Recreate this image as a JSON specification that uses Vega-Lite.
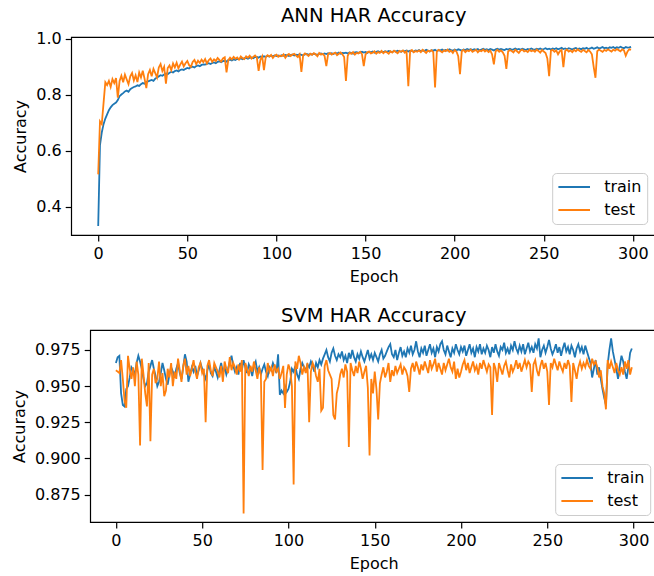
{
"$schema":"https://vega.github.io/schema/vega-lite/v6.json",
"padding":{"left":10,"top":5,"right":-23,"bottom":2},
"center":true,
"spacing":19,
"config":{
"font":"DejaVu Sans",
"view":{"stroke":"black","strokeWidth":1.2},
"axis":{"grid":false,"domain":false,"tickColor":"black","tickWidth":1.2,"tickSize":6,"labelFontSize":16,"labelColor":"black","titleFontSize":16,"titleFontWeight":"normal","titleColor":"black","labelPadding":4,"titlePadding":7},
"title":{"fontSize":19.5,"fontWeight":"normal","color":"black","offset":0},
"legend":{"fillColor":"rgba(255,255,255,0.85)","strokeColor":"#cccccc","cornerRadius":4,"padding":5,"symbolType":"stroke","symbolSize":1000,"symbolStrokeWidth":2,"labelFontSize":16,"labelColor":"black","rowPadding":5,"clipHeight":18,"labelOffset":13}
},
"datasets":{
"ann":[
{"epoch":0,"train":0.330,"test":0.515},{"epoch":1,"train":0.620,"test":0.705},{"epoch":2,"train":0.665,"test":0.695},{"epoch":3,"train":0.695,"test":0.770},{"epoch":4,"train":0.715,"test":0.845},{"epoch":5,"train":0.730,"test":0.835},{"epoch":6,"train":0.745,"test":0.850},{"epoch":7,"train":0.755,"test":0.828},{"epoch":8,"train":0.763,"test":0.856},{"epoch":9,"train":0.768,"test":0.842},
{"epoch":10,"train":0.772,"test":0.860},{"epoch":11,"train":0.781,"test":0.790},{"epoch":12,"train":0.795,"test":0.850},{"epoch":13,"train":0.801,"test":0.868},{"epoch":14,"train":0.806,"test":0.845},{"epoch":15,"train":0.812,"test":0.872},{"epoch":16,"train":0.815,"test":0.855},{"epoch":17,"train":0.811,"test":0.838},{"epoch":18,"train":0.820,"test":0.866},{"epoch":19,"train":0.824,"test":0.878},
{"epoch":20,"train":0.828,"test":0.851},{"epoch":21,"train":0.830,"test":0.870},{"epoch":22,"train":0.834,"test":0.846},{"epoch":23,"train":0.832,"test":0.880},{"epoch":24,"train":0.838,"test":0.862},{"epoch":25,"train":0.842,"test":0.886},{"epoch":26,"train":0.840,"test":0.858},{"epoch":27,"train":0.846,"test":0.824},{"epoch":28,"train":0.848,"test":0.874},{"epoch":29,"train":0.851,"test":0.889},
{"epoch":30,"train":0.853,"test":0.866},{"epoch":31,"train":0.850,"test":0.893},{"epoch":32,"train":0.858,"test":0.878},{"epoch":33,"train":0.862,"test":0.862},{"epoch":34,"train":0.866,"test":0.898},{"epoch":35,"train":0.870,"test":0.910},{"epoch":36,"train":0.868,"test":0.885},{"epoch":37,"train":0.873,"test":0.900},{"epoch":38,"train":0.876,"test":0.840},{"epoch":39,"train":0.874,"test":0.896},
{"epoch":40,"train":0.879,"test":0.905},{"epoch":41,"train":0.882,"test":0.888},{"epoch":42,"train":0.880,"test":0.912},{"epoch":43,"train":0.885,"test":0.898},{"epoch":44,"train":0.887,"test":0.915},{"epoch":45,"train":0.884,"test":0.895},{"epoch":46,"train":0.889,"test":0.908},{"epoch":47,"train":0.891,"test":0.919},{"epoch":48,"train":0.889,"test":0.902},{"epoch":49,"train":0.893,"test":0.913},
{"epoch":50,"train":0.896,"test":0.921},{"epoch":51,"train":0.894,"test":0.906},{"epoch":52,"train":0.899,"test":0.900},{"epoch":53,"train":0.901,"test":0.918},{"epoch":54,"train":0.898,"test":0.925},{"epoch":55,"train":0.903,"test":0.910},{"epoch":56,"train":0.905,"test":0.922},{"epoch":57,"train":0.902,"test":0.914},{"epoch":58,"train":0.907,"test":0.926},{"epoch":59,"train":0.909,"test":0.917},
{"epoch":60,"train":0.908,"test":0.928},{"epoch":61,"train":0.911,"test":0.912},{"epoch":62,"train":0.913,"test":0.924},{"epoch":63,"train":0.910,"test":0.930},{"epoch":64,"train":0.914,"test":0.918},{"epoch":65,"train":0.916,"test":0.927},{"epoch":66,"train":0.913,"test":0.921},{"epoch":67,"train":0.918,"test":0.932},{"epoch":68,"train":0.920,"test":0.925},{"epoch":69,"train":0.917,"test":0.919},
{"epoch":70,"train":0.921,"test":0.930},{"epoch":71,"train":0.922,"test":0.934},{"epoch":72,"train":0.919,"test":0.880},{"epoch":73,"train":0.924,"test":0.924},{"epoch":74,"train":0.926,"test":0.933},{"epoch":75,"train":0.923,"test":0.927},{"epoch":76,"train":0.927,"test":0.936},{"epoch":77,"train":0.925,"test":0.929},{"epoch":78,"train":0.929,"test":0.934},{"epoch":79,"train":0.928,"test":0.926},
{"epoch":80,"train":0.930,"test":0.937},{"epoch":81,"train":0.927,"test":0.931},{"epoch":82,"train":0.931,"test":0.928},{"epoch":83,"train":0.932,"test":0.938},{"epoch":84,"train":0.929,"test":0.933},{"epoch":85,"train":0.933,"test":0.940},{"epoch":86,"train":0.934,"test":0.930},{"epoch":87,"train":0.931,"test":0.936},{"epoch":88,"train":0.935,"test":0.941},{"epoch":89,"train":0.936,"test":0.934},
{"epoch":90,"train":0.933,"test":0.886},{"epoch":91,"train":0.937,"test":0.925},{"epoch":92,"train":0.935,"test":0.938},{"epoch":93,"train":0.938,"test":0.888},{"epoch":94,"train":0.936,"test":0.935},{"epoch":95,"train":0.939,"test":0.942},{"epoch":96,"train":0.937,"test":0.937},{"epoch":97,"train":0.940,"test":0.943},{"epoch":98,"train":0.938,"test":0.932},{"epoch":99,"train":0.941,"test":0.940},
{"epoch":100,"train":0.939,"test":0.944},{"epoch":101,"train":0.941,"test":0.936},{"epoch":102,"train":0.938,"test":0.941},{"epoch":103,"train":0.942,"test":0.938},{"epoch":104,"train":0.940,"test":0.945},{"epoch":105,"train":0.943,"test":0.933},{"epoch":106,"train":0.941,"test":0.942},{"epoch":107,"train":0.939,"test":0.946},{"epoch":108,"train":0.943,"test":0.939},{"epoch":109,"train":0.944,"test":0.944},
{"epoch":110,"train":0.941,"test":0.947},{"epoch":111,"train":0.944,"test":0.940},{"epoch":112,"train":0.942,"test":0.935},{"epoch":113,"train":0.945,"test":0.945},{"epoch":114,"train":0.943,"test":0.882},{"epoch":115,"train":0.941,"test":0.942},{"epoch":116,"train":0.945,"test":0.948},{"epoch":117,"train":0.946,"test":0.944},{"epoch":118,"train":0.943,"test":0.939},{"epoch":119,"train":0.946,"test":0.947},
{"epoch":120,"train":0.944,"test":0.943},{"epoch":121,"train":0.947,"test":0.949},{"epoch":122,"train":0.945,"test":0.945},{"epoch":123,"train":0.943,"test":0.938},{"epoch":124,"train":0.947,"test":0.950},{"epoch":125,"train":0.948,"test":0.944},{"epoch":126,"train":0.945,"test":0.947},{"epoch":127,"train":0.948,"test":0.939},{"epoch":128,"train":0.946,"test":0.903},{"epoch":129,"train":0.949,"test":0.946},
{"epoch":130,"train":0.947,"test":0.950},{"epoch":131,"train":0.949,"test":0.944},{"epoch":132,"train":0.946,"test":0.948},{"epoch":133,"train":0.950,"test":0.951},{"epoch":134,"train":0.948,"test":0.942},{"epoch":135,"train":0.951,"test":0.947},{"epoch":136,"train":0.947,"test":0.952},{"epoch":137,"train":0.950,"test":0.945},{"epoch":138,"train":0.949,"test":0.935},{"epoch":139,"train":0.951,"test":0.850},
{"epoch":140,"train":0.948,"test":0.940},{"epoch":141,"train":0.952,"test":0.951},{"epoch":142,"train":0.950,"test":0.947},{"epoch":143,"train":0.947,"test":0.953},{"epoch":144,"train":0.952,"test":0.944},{"epoch":145,"train":0.953,"test":0.950},{"epoch":146,"train":0.950,"test":0.948},{"epoch":147,"train":0.952,"test":0.954},{"epoch":148,"train":0.954,"test":0.946},{"epoch":149,"train":0.951,"test":0.903},
{"epoch":150,"train":0.953,"test":0.945},{"epoch":151,"train":0.950,"test":0.952},{"epoch":152,"train":0.954,"test":0.955},{"epoch":153,"train":0.952,"test":0.948},{"epoch":154,"train":0.955,"test":0.951},{"epoch":155,"train":0.951,"test":0.956},{"epoch":156,"train":0.954,"test":0.947},{"epoch":157,"train":0.956,"test":0.953},{"epoch":158,"train":0.953,"test":0.950},{"epoch":159,"train":0.955,"test":0.957},
{"epoch":160,"train":0.952,"test":0.949},{"epoch":161,"train":0.956,"test":0.955},{"epoch":162,"train":0.954,"test":0.952},{"epoch":163,"train":0.957,"test":0.947},{"epoch":164,"train":0.955,"test":0.956},{"epoch":165,"train":0.953,"test":0.951},{"epoch":166,"train":0.957,"test":0.958},{"epoch":167,"train":0.955,"test":0.953},{"epoch":168,"train":0.958,"test":0.949},{"epoch":169,"train":0.956,"test":0.957},
{"epoch":170,"train":0.954,"test":0.954},{"epoch":171,"train":0.958,"test":0.959},{"epoch":172,"train":0.956,"test":0.951},{"epoch":173,"train":0.959,"test":0.956},{"epoch":174,"train":0.955,"test":0.831},{"epoch":175,"train":0.958,"test":0.955},{"epoch":176,"train":0.957,"test":0.960},{"epoch":177,"train":0.954,"test":0.952},{"epoch":178,"train":0.959,"test":0.957},{"epoch":179,"train":0.957,"test":0.954},
{"epoch":180,"train":0.960,"test":0.959},{"epoch":181,"train":0.956,"test":0.953},{"epoch":182,"train":0.959,"test":0.961},{"epoch":183,"train":0.957,"test":0.956},{"epoch":184,"train":0.961,"test":0.950},{"epoch":185,"train":0.958,"test":0.958},{"epoch":186,"train":0.955,"test":0.955},{"epoch":187,"train":0.960,"test":0.960},{"epoch":188,"train":0.958,"test":0.953},{"epoch":189,"train":0.961,"test":0.826},
{"epoch":190,"train":0.957,"test":0.955},{"epoch":191,"train":0.960,"test":0.961},{"epoch":192,"train":0.959,"test":0.957},{"epoch":193,"train":0.962,"test":0.952},{"epoch":194,"train":0.958,"test":0.959},{"epoch":195,"train":0.961,"test":0.956},{"epoch":196,"train":0.959,"test":0.962},{"epoch":197,"train":0.963,"test":0.954},{"epoch":198,"train":0.960,"test":0.958},{"epoch":199,"train":0.958,"test":0.950},
{"epoch":200,"train":0.962,"test":0.960},{"epoch":201,"train":0.959,"test":0.955},{"epoch":202,"train":0.963,"test":0.938},{"epoch":203,"train":0.961,"test":0.874},{"epoch":204,"train":0.958,"test":0.957},{"epoch":205,"train":0.962,"test":0.961},{"epoch":206,"train":0.960,"test":0.953},{"epoch":207,"train":0.964,"test":0.959},{"epoch":208,"train":0.961,"test":0.956},{"epoch":209,"train":0.963,"test":0.962},
{"epoch":210,"train":0.960,"test":0.954},{"epoch":211,"train":0.963,"test":0.958},{"epoch":212,"train":0.961,"test":0.961},{"epoch":213,"train":0.964,"test":0.952},{"epoch":214,"train":0.959,"test":0.959},{"epoch":215,"train":0.962,"test":0.956},{"epoch":216,"train":0.965,"test":0.962},{"epoch":217,"train":0.961,"test":0.955},{"epoch":218,"train":0.963,"test":0.960},{"epoch":219,"train":0.960,"test":0.953},
{"epoch":220,"train":0.964,"test":0.958},{"epoch":221,"train":0.962,"test":0.945},{"epoch":222,"train":0.959,"test":0.909},{"epoch":223,"train":0.963,"test":0.956},{"epoch":224,"train":0.965,"test":0.961},{"epoch":225,"train":0.961,"test":0.954},{"epoch":226,"train":0.964,"test":0.959},{"epoch":227,"train":0.962,"test":0.952},{"epoch":228,"train":0.960,"test":0.940},{"epoch":229,"train":0.964,"test":0.893},
{"epoch":230,"train":0.962,"test":0.955},{"epoch":231,"train":0.965,"test":0.960},{"epoch":232,"train":0.961,"test":0.957},{"epoch":233,"train":0.963,"test":0.952},{"epoch":234,"train":0.966,"test":0.961},{"epoch":235,"train":0.962,"test":0.956},{"epoch":236,"train":0.964,"test":0.950},{"epoch":237,"train":0.961,"test":0.959},{"epoch":238,"train":0.965,"test":0.962},{"epoch":239,"train":0.963,"test":0.955},
{"epoch":240,"train":0.960,"test":0.958},{"epoch":241,"train":0.964,"test":0.953},{"epoch":242,"train":0.962,"test":0.961},{"epoch":243,"train":0.966,"test":0.956},{"epoch":244,"train":0.963,"test":0.959},{"epoch":245,"train":0.961,"test":0.954},{"epoch":246,"train":0.965,"test":0.962},{"epoch":247,"train":0.963,"test":0.957},{"epoch":248,"train":0.966,"test":0.951},{"epoch":249,"train":0.962,"test":0.960},
{"epoch":250,"train":0.964,"test":0.955},{"epoch":251,"train":0.967,"test":0.950},{"epoch":252,"train":0.963,"test":0.930},{"epoch":253,"train":0.965,"test":0.867},{"epoch":254,"train":0.962,"test":0.958},{"epoch":255,"train":0.966,"test":0.961},{"epoch":256,"train":0.964,"test":0.954},{"epoch":257,"train":0.967,"test":0.959},{"epoch":258,"train":0.963,"test":0.945},{"epoch":259,"train":0.965,"test":0.956},
{"epoch":260,"train":0.968,"test":0.960},{"epoch":261,"train":0.964,"test":0.899},{"epoch":262,"train":0.966,"test":0.957},{"epoch":263,"train":0.963,"test":0.962},{"epoch":264,"train":0.967,"test":0.955},{"epoch":265,"train":0.965,"test":0.959},{"epoch":266,"train":0.962,"test":0.953},{"epoch":267,"train":0.966,"test":0.961},{"epoch":268,"train":0.968,"test":0.956},{"epoch":269,"train":0.964,"test":0.963},
{"epoch":270,"train":0.966,"test":0.958},{"epoch":271,"train":0.963,"test":0.954},{"epoch":272,"train":0.967,"test":0.961},{"epoch":273,"train":0.965,"test":0.957},{"epoch":274,"train":0.968,"test":0.952},{"epoch":275,"train":0.964,"test":0.960},{"epoch":276,"train":0.966,"test":0.955},{"epoch":277,"train":0.969,"test":0.945},{"epoch":278,"train":0.965,"test":0.900},{"epoch":279,"train":0.967,"test":0.861},
{"epoch":280,"train":0.970,"test":0.956},{"epoch":281,"train":0.966,"test":0.962},{"epoch":282,"train":0.968,"test":0.958},{"epoch":283,"train":0.971,"test":0.954},{"epoch":284,"train":0.967,"test":0.961},{"epoch":285,"train":0.969,"test":0.957},{"epoch":286,"train":0.966,"test":0.963},{"epoch":287,"train":0.970,"test":0.959},{"epoch":288,"train":0.968,"test":0.955},{"epoch":289,"train":0.971,"test":0.962},
{"epoch":290,"train":0.967,"test":0.958},{"epoch":291,"train":0.970,"test":0.964},{"epoch":292,"train":0.968,"test":0.960},{"epoch":293,"train":0.972,"test":0.956},{"epoch":294,"train":0.969,"test":0.963},{"epoch":295,"train":0.967,"test":0.959},{"epoch":296,"train":0.971,"test":0.940},{"epoch":297,"train":0.969,"test":0.955},{"epoch":298,"train":0.970,"test":0.963},{"epoch":299,"train":0.972,"test":0.962}
],
"svm":[
{"epoch":0,"train":0.966,"test":0.961},{"epoch":1,"train":0.970,"test":0.960},{"epoch":2,"train":0.971,"test":0.959},{"epoch":3,"train":0.945,"test":0.968},{"epoch":4,"train":0.937,"test":0.955},{"epoch":5,"train":0.936,"test":0.940},{"epoch":6,"train":0.948,"test":0.935},{"epoch":7,"train":0.950,"test":0.971},{"epoch":8,"train":0.956,"test":0.962},{"epoch":9,"train":0.963,"test":0.955},
{"epoch":10,"train":0.961,"test":0.963},{"epoch":11,"train":0.958,"test":0.950},{"epoch":12,"train":0.966,"test":0.967},{"epoch":13,"train":0.971,"test":0.958},{"epoch":14,"train":0.967,"test":0.909},{"epoch":15,"train":0.962,"test":0.969},{"epoch":16,"train":0.955,"test":0.958},{"epoch":17,"train":0.950,"test":0.945},{"epoch":18,"train":0.952,"test":0.936},{"epoch":19,"train":0.960,"test":0.966},
{"epoch":20,"train":0.964,"test":0.912},{"epoch":21,"train":0.968,"test":0.958},{"epoch":22,"train":0.962,"test":0.962},{"epoch":23,"train":0.957,"test":0.952},{"epoch":24,"train":0.950,"test":0.955},{"epoch":25,"train":0.953,"test":0.967},{"epoch":26,"train":0.959,"test":0.950},{"epoch":27,"train":0.966,"test":0.959},{"epoch":28,"train":0.961,"test":0.943},{"epoch":29,"train":0.955,"test":0.947},
{"epoch":30,"train":0.951,"test":0.962},{"epoch":31,"train":0.958,"test":0.956},{"epoch":32,"train":0.963,"test":0.966},{"epoch":33,"train":0.960,"test":0.950},{"epoch":34,"train":0.956,"test":0.960},{"epoch":35,"train":0.962,"test":0.955},{"epoch":36,"train":0.966,"test":0.969},{"epoch":37,"train":0.959,"test":0.961},{"epoch":38,"train":0.955,"test":0.953},{"epoch":39,"train":0.963,"test":0.964},
{"epoch":40,"train":0.972,"test":0.969},{"epoch":41,"train":0.967,"test":0.958},{"epoch":42,"train":0.953,"test":0.964},{"epoch":43,"train":0.958,"test":0.957},{"epoch":44,"train":0.963,"test":0.962},{"epoch":45,"train":0.960,"test":0.968},{"epoch":46,"train":0.964,"test":0.960},{"epoch":47,"train":0.957,"test":0.955},{"epoch":48,"train":0.961,"test":0.963},{"epoch":49,"train":0.966,"test":0.966},
{"epoch":50,"train":0.962,"test":0.959},{"epoch":51,"train":0.958,"test":0.962},{"epoch":52,"train":0.955,"test":0.925},{"epoch":53,"train":0.961,"test":0.964},{"epoch":54,"train":0.965,"test":0.968},{"epoch":55,"train":0.959,"test":0.961},{"epoch":56,"train":0.957,"test":0.957},{"epoch":57,"train":0.963,"test":0.966},{"epoch":58,"train":0.960,"test":0.963},{"epoch":59,"train":0.956,"test":0.960},
{"epoch":60,"train":0.961,"test":0.956},{"epoch":61,"train":0.966,"test":0.964},{"epoch":62,"train":0.959,"test":0.953},{"epoch":63,"train":0.963,"test":0.967},{"epoch":64,"train":0.958,"test":0.962},{"epoch":65,"train":0.962,"test":0.959},{"epoch":66,"train":0.967,"test":0.970},{"epoch":67,"train":0.971,"test":0.961},{"epoch":68,"train":0.964,"test":0.966},{"epoch":69,"train":0.960,"test":0.963},
{"epoch":70,"train":0.963,"test":0.958},{"epoch":71,"train":0.958,"test":0.965},{"epoch":72,"train":0.966,"test":0.960},{"epoch":73,"train":0.961,"test":0.968},{"epoch":74,"train":0.968,"test":0.862},{"epoch":75,"train":0.963,"test":0.966},{"epoch":76,"train":0.959,"test":0.962},{"epoch":77,"train":0.965,"test":0.957},{"epoch":78,"train":0.962,"test":0.964},{"epoch":79,"train":0.957,"test":0.960},
{"epoch":80,"train":0.964,"test":0.967},{"epoch":81,"train":0.967,"test":0.961},{"epoch":82,"train":0.960,"test":0.955},{"epoch":83,"train":0.963,"test":0.963},{"epoch":84,"train":0.958,"test":0.958},{"epoch":85,"train":0.962,"test":0.892},{"epoch":86,"train":0.965,"test":0.953},{"epoch":87,"train":0.960,"test":0.955},{"epoch":88,"train":0.957,"test":0.966},{"epoch":89,"train":0.963,"test":0.960},
{"epoch":90,"train":0.961,"test":0.963},{"epoch":91,"train":0.966,"test":0.957},{"epoch":92,"train":0.963,"test":0.965},{"epoch":93,"train":0.959,"test":0.960},{"epoch":94,"train":0.972,"test":0.962},{"epoch":95,"train":0.944,"test":0.955},{"epoch":96,"train":0.947,"test":0.959},{"epoch":97,"train":0.945,"test":0.964},{"epoch":98,"train":0.950,"test":0.935},{"epoch":99,"train":0.946,"test":0.958},
{"epoch":100,"train":0.948,"test":0.965},{"epoch":101,"train":0.953,"test":0.961},{"epoch":102,"train":0.962,"test":0.950},{"epoch":103,"train":0.960,"test":0.882},{"epoch":104,"train":0.964,"test":0.967},{"epoch":105,"train":0.958,"test":0.962},{"epoch":106,"train":0.955,"test":0.971},{"epoch":107,"train":0.962,"test":0.966},{"epoch":108,"train":0.966,"test":0.958},{"epoch":109,"train":0.963,"test":0.963},
{"epoch":110,"train":0.961,"test":0.959},{"epoch":111,"train":0.965,"test":0.966},{"epoch":112,"train":0.963,"test":0.925},{"epoch":113,"train":0.967,"test":0.960},{"epoch":114,"train":0.964,"test":0.966},{"epoch":115,"train":0.960,"test":0.963},{"epoch":116,"train":0.966,"test":0.957},{"epoch":117,"train":0.963,"test":0.953},{"epoch":118,"train":0.968,"test":0.962},{"epoch":119,"train":0.965,"test":0.933},
{"epoch":120,"train":0.969,"test":0.935},{"epoch":121,"train":0.972,"test":0.964},{"epoch":122,"train":0.975,"test":0.968},{"epoch":123,"train":0.970,"test":0.961},{"epoch":124,"train":0.967,"test":0.958},{"epoch":125,"train":0.973,"test":0.955},{"epoch":126,"train":0.976,"test":0.930},{"epoch":127,"train":0.971,"test":0.927},{"epoch":128,"train":0.968,"test":0.945},{"epoch":129,"train":0.972,"test":0.950},
{"epoch":130,"train":0.970,"test":0.958},{"epoch":131,"train":0.974,"test":0.962},{"epoch":132,"train":0.968,"test":0.956},{"epoch":133,"train":0.971,"test":0.965},{"epoch":134,"train":0.966,"test":0.960},{"epoch":135,"train":0.973,"test":0.908},{"epoch":136,"train":0.969,"test":0.966},{"epoch":137,"train":0.975,"test":0.961},{"epoch":138,"train":0.970,"test":0.957},{"epoch":139,"train":0.967,"test":0.964},
{"epoch":140,"train":0.972,"test":0.959},{"epoch":141,"train":0.969,"test":0.967},{"epoch":142,"train":0.974,"test":0.962},{"epoch":143,"train":0.970,"test":0.955},{"epoch":144,"train":0.967,"test":0.960},{"epoch":145,"train":0.971,"test":0.964},{"epoch":146,"train":0.975,"test":0.949},{"epoch":147,"train":0.969,"test":0.902},{"epoch":148,"train":0.972,"test":0.955},{"epoch":149,"train":0.968,"test":0.945},
{"epoch":150,"train":0.973,"test":0.960},{"epoch":151,"train":0.970,"test":0.948},{"epoch":152,"train":0.967,"test":0.927},{"epoch":153,"train":0.972,"test":0.952},{"epoch":154,"train":0.975,"test":0.958},{"epoch":155,"train":0.969,"test":0.963},{"epoch":156,"train":0.971,"test":0.956},{"epoch":157,"train":0.974,"test":0.960},{"epoch":158,"train":0.977,"test":0.966},{"epoch":159,"train":0.979,"test":0.953},
{"epoch":160,"train":0.972,"test":0.961},{"epoch":161,"train":0.970,"test":0.957},{"epoch":162,"train":0.975,"test":0.964},{"epoch":163,"train":0.968,"test":0.959},{"epoch":164,"train":0.973,"test":0.962},{"epoch":165,"train":0.977,"test":0.965},{"epoch":166,"train":0.971,"test":0.958},{"epoch":167,"train":0.974,"test":0.963},{"epoch":168,"train":0.970,"test":0.961},{"epoch":169,"train":0.976,"test":0.957},
{"epoch":170,"train":0.973,"test":0.946},{"epoch":171,"train":0.978,"test":0.962},{"epoch":172,"train":0.972,"test":0.966},{"epoch":173,"train":0.975,"test":0.960},{"epoch":174,"train":0.981,"test":0.967},{"epoch":175,"train":0.974,"test":0.963},{"epoch":176,"train":0.970,"test":0.958},{"epoch":177,"train":0.976,"test":0.965},{"epoch":178,"train":0.973,"test":0.961},{"epoch":179,"train":0.978,"test":0.967},
{"epoch":180,"train":0.971,"test":0.963},{"epoch":181,"train":0.975,"test":0.959},{"epoch":182,"train":0.979,"test":0.968},{"epoch":183,"train":0.973,"test":0.962},{"epoch":184,"train":0.976,"test":0.965},{"epoch":185,"train":0.970,"test":0.969},{"epoch":186,"train":0.977,"test":0.960},{"epoch":187,"train":0.974,"test":0.966},{"epoch":188,"train":0.979,"test":0.962},{"epoch":189,"train":0.981,"test":0.958},
{"epoch":190,"train":0.975,"test":0.966},{"epoch":191,"train":0.972,"test":0.961},{"epoch":192,"train":0.978,"test":0.965},{"epoch":193,"train":0.974,"test":0.969},{"epoch":194,"train":0.970,"test":0.963},{"epoch":195,"train":0.976,"test":0.960},{"epoch":196,"train":0.973,"test":0.967},{"epoch":197,"train":0.979,"test":0.955},{"epoch":198,"train":0.975,"test":0.962},{"epoch":199,"train":0.972,"test":0.956},
{"epoch":200,"train":0.977,"test":0.960},{"epoch":201,"train":0.974,"test":0.965},{"epoch":202,"train":0.978,"test":0.968},{"epoch":203,"train":0.971,"test":0.961},{"epoch":204,"train":0.975,"test":0.966},{"epoch":205,"train":0.979,"test":0.959},{"epoch":206,"train":0.973,"test":0.963},{"epoch":207,"train":0.976,"test":0.967},{"epoch":208,"train":0.970,"test":0.961},{"epoch":209,"train":0.977,"test":0.964},
{"epoch":210,"train":0.974,"test":0.958},{"epoch":211,"train":0.979,"test":0.966},{"epoch":212,"train":0.972,"test":0.962},{"epoch":213,"train":0.976,"test":0.968},{"epoch":214,"train":0.973,"test":0.964},{"epoch":215,"train":0.978,"test":0.960},{"epoch":216,"train":0.975,"test":0.965},{"epoch":217,"train":0.970,"test":0.963},{"epoch":218,"train":0.977,"test":0.930},{"epoch":219,"train":0.973,"test":0.966},
{"epoch":220,"train":0.979,"test":0.962},{"epoch":221,"train":0.974,"test":0.953},{"epoch":222,"train":0.971,"test":0.966},{"epoch":223,"train":0.977,"test":0.962},{"epoch":224,"train":0.975,"test":0.958},{"epoch":225,"train":0.980,"test":0.964},{"epoch":226,"train":0.973,"test":0.967},{"epoch":227,"train":0.976,"test":0.961},{"epoch":228,"train":0.972,"test":0.956},{"epoch":229,"train":0.978,"test":0.965},
{"epoch":230,"train":0.975,"test":0.960},{"epoch":231,"train":0.981,"test":0.963},{"epoch":232,"train":0.976,"test":0.968},{"epoch":233,"train":0.973,"test":0.962},{"epoch":234,"train":0.978,"test":0.966},{"epoch":235,"train":0.974,"test":0.960},{"epoch":236,"train":0.979,"test":0.964},{"epoch":237,"train":0.972,"test":0.968},{"epoch":238,"train":0.976,"test":0.963},{"epoch":239,"train":0.980,"test":0.967},
{"epoch":240,"train":0.974,"test":0.965},{"epoch":241,"train":0.977,"test":0.946},{"epoch":242,"train":0.973,"test":0.965},{"epoch":243,"train":0.979,"test":0.968},{"epoch":244,"train":0.976,"test":0.961},{"epoch":245,"train":0.983,"test":0.957},{"epoch":246,"train":0.970,"test":0.964},{"epoch":247,"train":0.975,"test":0.968},{"epoch":248,"train":0.978,"test":0.962},{"epoch":249,"train":0.973,"test":0.966},
{"epoch":250,"train":0.977,"test":0.960},{"epoch":251,"train":0.982,"test":0.937},{"epoch":252,"train":0.976,"test":0.966},{"epoch":253,"train":0.972,"test":0.963},{"epoch":254,"train":0.975,"test":0.969},{"epoch":255,"train":0.979,"test":0.965},{"epoch":256,"train":0.973,"test":0.961},{"epoch":257,"train":0.977,"test":0.967},{"epoch":258,"train":0.971,"test":0.963},{"epoch":259,"train":0.976,"test":0.960},
{"epoch":260,"train":0.980,"test":0.966},{"epoch":261,"train":0.974,"test":0.962},{"epoch":262,"train":0.977,"test":0.968},{"epoch":263,"train":0.972,"test":0.964},{"epoch":264,"train":0.978,"test":0.939},{"epoch":265,"train":0.975,"test":0.966},{"epoch":266,"train":0.970,"test":0.961},{"epoch":267,"train":0.976,"test":0.955},{"epoch":268,"train":0.979,"test":0.963},{"epoch":269,"train":0.974,"test":0.967},
{"epoch":270,"train":0.977,"test":0.962},{"epoch":271,"train":0.972,"test":0.966},{"epoch":272,"train":0.978,"test":0.963},{"epoch":273,"train":0.974,"test":0.968},{"epoch":274,"train":0.970,"test":0.964},{"epoch":275,"train":0.966,"test":0.962},{"epoch":276,"train":0.956,"test":0.969},{"epoch":277,"train":0.962,"test":0.965},{"epoch":278,"train":0.968,"test":0.967},{"epoch":279,"train":0.958,"test":0.963},
{"epoch":280,"train":0.963,"test":0.956},{"epoch":281,"train":0.955,"test":0.961},{"epoch":282,"train":0.948,"test":0.950},{"epoch":283,"train":0.942,"test":0.945},{"epoch":284,"train":0.937,"test":0.934},{"epoch":285,"train":0.965,"test":0.968},{"epoch":286,"train":0.975,"test":0.962},{"epoch":287,"train":0.983,"test":0.967},{"epoch":288,"train":0.974,"test":0.963},{"epoch":289,"train":0.968,"test":0.959},
{"epoch":290,"train":0.962,"test":0.966},{"epoch":291,"train":0.955,"test":0.961},{"epoch":292,"train":0.964,"test":0.958},{"epoch":293,"train":0.971,"test":0.963},{"epoch":294,"train":0.967,"test":0.958},{"epoch":295,"train":0.960,"test":0.967},{"epoch":296,"train":0.955,"test":0.962},{"epoch":297,"train":0.963,"test":0.968},{"epoch":298,"train":0.973,"test":0.958},{"epoch":299,"train":0.976,"test":0.963}
]
},
"vconcat":[
{
"width":605,"height":198,
"title":"ANN HAR Accuracy",
"data":{"name":"ann"},
"transform":[{"fold":["train","test"],"as":["series","accuracy"]}],
"mark":{"type":"line","strokeWidth":1.8,"clip":true},
"encoding":{
"x":{"field":"epoch","type":"quantitative","scale":{"domain":[-15.15,324.3],"nice":false,"zero":false},"axis":{"values":[0,50,100,150,200,250,300],"title":"Epoch"}},
"y":{"field":"accuracy","type":"quantitative","scale":{"domain":[0.298,1.007],"nice":false,"zero":false},"axis":{"values":[0.4,0.6,0.8,1.0],"format":".1f","title":"Accuracy"}},
"color":{"field":"series","type":"nominal","scale":{"domain":["train","test"],"range":["#1f77b4","#ff7f0e"]},"legend":{"title":null,"orient":"none","legendX":481,"legendY":136}}
}
},
{
"width":567,"height":192,
"title":{"text":"SVM HAR Accuracy","offset":4},
"data":{"name":"svm"},
"transform":[{"fold":["train","test"],"as":["series","accuracy"]}],
"mark":{"type":"line","strokeWidth":1.8,"clip":true},
"encoding":{
"x":{"field":"epoch","type":"quantitative","scale":{"domain":[-14.9,313.7],"nice":false,"zero":false},"axis":{"values":[0,50,100,150,200,250,300],"title":"Epoch"}},
"y":{"field":"accuracy","type":"quantitative","scale":{"domain":[0.8561,0.9888],"nice":false,"zero":false},"axis":{"values":[0.875,0.9,0.925,0.95,0.975],"format":".3f","title":"Accuracy"}},
"color":{"field":"series","type":"nominal","scale":{"domain":["train","test"],"range":["#1f77b4","#ff7f0e"]},"legend":{"title":null,"orient":"bottom-right","offset":7}}
}
}
],
"resolve":{"scale":{"color":"independent"}}
}
